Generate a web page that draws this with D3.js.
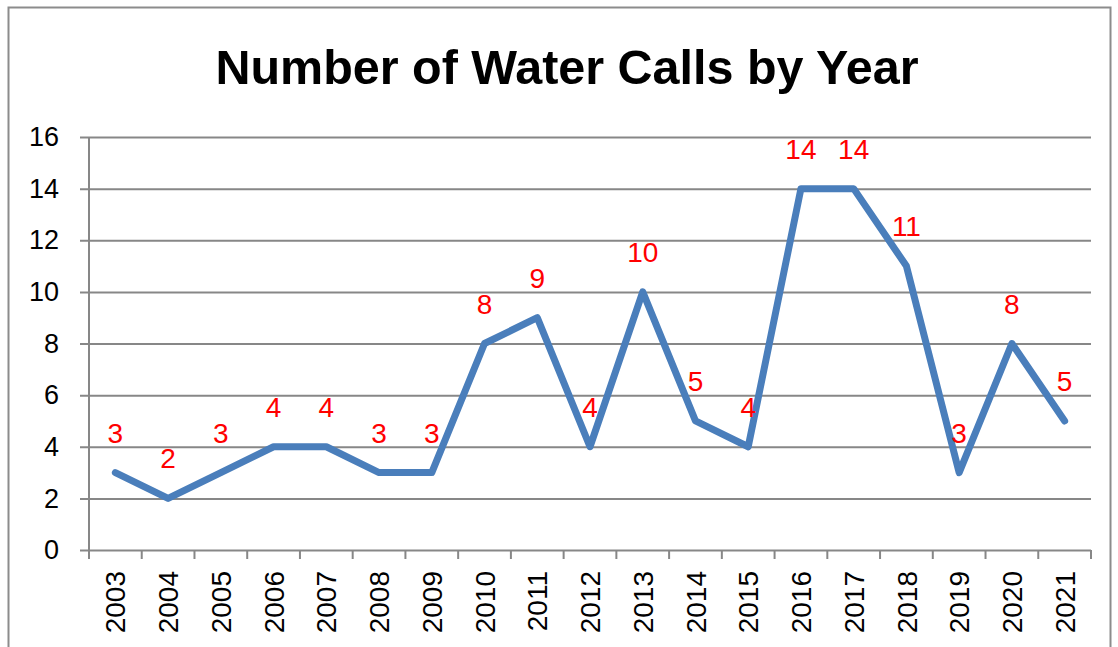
<!DOCTYPE html>
<html>
<head>
<meta charset="utf-8">
<script src="https://cdn.jsdelivr.net/npm/d3@7"></script>
<style>
	body { margin: 0; background: #fff; }
	svg { display: block; }
</style>
</head>
<body>
<div></div>
<script>
var years = ["2003", "2004", "2005", "2006", "2007", "2008", "2009", "2010", "2011", "2012",
	"2013", "2014", "2015", "2016", "2017", "2018", "2019", "2020", "2021"];
var calls = [3, 2, 3, 4, 4, 3, 3, 8, 9, 4, 10, 5, 4, 14, 14, 11, 3, 8, 5];
var yTicks = [0, 2, 4, 6, 8, 10, 12, 14, 16];
var chartTitle = "Number of Water Calls by Year";

var svgContainer,
	width = 1118,
	height = 647,
	plot = { left: 89, right: 1091, top: 137, bottom: 550 },
	gridColor = "#878787",
	lineColor = "#4a7ebb",
	fontFamily = "'Liberation Sans', Arial, sans-serif";

svgContainer = d3.select("div")
	.append("svg")
	.attr("width", width)
	.attr("height", height);

// outer chart border
svgContainer.append("rect")
	.attr("x", 8.5)
	.attr("y", 7.5)
	.attr("width", 1102)
	.attr("height", 650)
	.attr("fill", "none")
	.attr("stroke", "#8c8c8c")
	.attr("stroke-width", 2);

svgContainer.append("text")
	.attr("x", 567)
	.attr("y", 84)
	.attr("text-anchor", "middle")
	.attr("font-family", fontFamily)
	.attr("font-weight", "bold")
	.attr("font-size", 48)
	.attr("textLength", 703)
	.attr("lengthAdjust", "spacingAndGlyphs")
	.text(chartTitle);

var xScale = d3.scaleBand().domain(years).range([plot.left, plot.right]);
var yScale = d3.scaleLinear().domain([0, 16]).range([plot.bottom, plot.top]);

// horizontal gridlines + y axis
var yAxis = d3.axisLeft(yScale)
	.tickValues(yTicks)
	.tickSize(plot.right - plot.left + 9)
	.tickPadding(21);

var yAxisGroup = svgContainer.append("g")
	.attr("transform", "translate(" + plot.right + ",0)")
	.call(yAxis);
yAxisGroup.select(".domain").remove();
yAxisGroup.selectAll(".tick line")
	.attr("stroke", gridColor)
	.attr("stroke-width", 2);
yAxisGroup.selectAll(".tick text")
	.attr("font-family", fontFamily)
	.attr("font-size", 27)
	.attr("fill", "#000");

svgContainer.append("line")
	.attr("x1", plot.left).attr("x2", plot.left)
	.attr("y1", plot.top).attr("y2", plot.bottom)
	.attr("stroke", gridColor)
	.attr("stroke-width", 2);

// x axis with ticks between categories
var xEdges = years.map(function(d) { return xScale(d); }).concat([plot.right]);
svgContainer.selectAll(".xtick")
	.data(xEdges)
	.enter().append("line")
	.attr("class", "xtick")
	.attr("x1", function(d) { return d; })
	.attr("x2", function(d) { return d; })
	.attr("y1", plot.bottom)
	.attr("y2", plot.bottom + 9)
	.attr("stroke", gridColor)
	.attr("stroke-width", 2);

svgContainer.selectAll(".xlabel")
	.data(years)
	.enter().append("text")
	.attr("class", "xlabel")
	.attr("transform", function(d) {
		return "translate(" + (xScale(d) + xScale.bandwidth() / 2) + "," + (plot.bottom + 21) + ") rotate(-90)";
	})
	.attr("dy", "0.36em")
	.attr("text-anchor", "end")
	.attr("font-family", fontFamily)
	.attr("font-size", 28)
	.text(function(d) { return d; });

// the series line
var line = d3.line()
	.x(function(d, i) { return xScale(years[i]) + xScale.bandwidth() / 2; })
	.y(function(d) { return yScale(d); });

svgContainer.append("path")
	.datum(calls)
	.attr("d", line)
	.attr("fill", "none")
	.attr("stroke", lineColor)
	.attr("stroke-width", 7)
	.attr("stroke-linejoin", "round")
	.attr("stroke-linecap", "round");

// data labels
svgContainer.selectAll(".dlabel")
	.data(calls)
	.enter().append("text")
	.attr("class", "dlabel")
	.attr("x", function(d, i) { return xScale(years[i]) + xScale.bandwidth() / 2; })
	.attr("y", function(d) { return yScale(d) - 30; })
	.attr("text-anchor", "middle")
	.attr("font-family", fontFamily)
	.attr("font-size", 28)
	.attr("fill", "#ff0000")
	.text(function(d) { return d; });
</script>
</body>
</html>
